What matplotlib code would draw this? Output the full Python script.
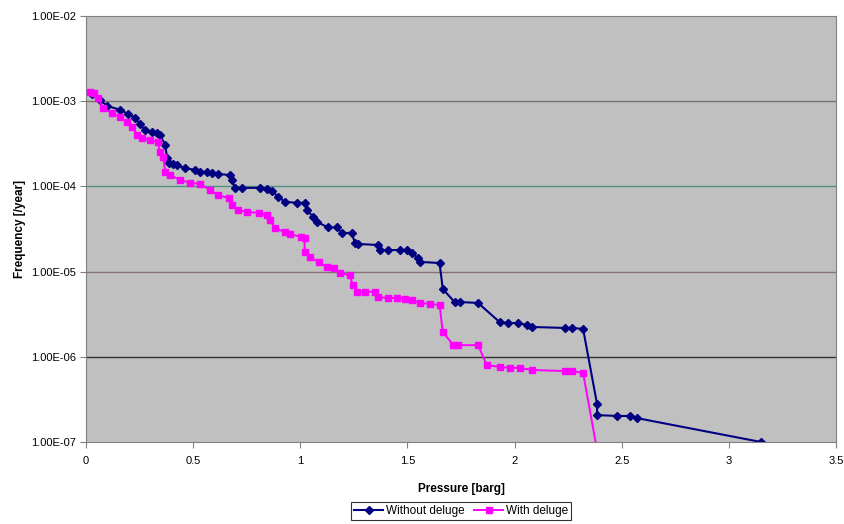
import matplotlib
matplotlib.use("Agg")
import matplotlib.pyplot as plt
from matplotlib.ticker import FixedLocator, FuncFormatter, NullLocator

plt.rcParams["font.family"] = ["Liberation Sans", "DejaVu Sans"]

# Without deluge (pressure [barg], frequency [/year])
p_without = [0.03, 0.065, 0.10, 0.16, 0.195, 0.23, 0.25, 0.275, 0.31, 0.33, 0.345,
             0.37, 0.378, 0.385, 0.405, 0.425, 0.46, 0.51, 0.53, 0.565, 0.59, 0.615,
             0.67, 0.68, 0.695, 0.73, 0.81, 0.845, 0.87, 0.895, 0.93, 0.985, 1.02,
             1.03, 1.06, 1.08, 1.13, 1.17, 1.195, 1.24, 1.255, 1.27, 1.365, 1.37,
             1.41, 1.465, 1.50, 1.52, 1.55, 1.56, 1.65, 1.665, 1.72, 1.745, 1.83,
             1.93, 1.97, 2.015, 2.06, 2.08, 2.235, 2.27, 2.32, 2.385, 2.385, 2.48,
             2.54, 2.57, 3.15]
f_without = [1.22e-3, 1.03e-3, 8.8e-4, 7.9e-4, 7.1e-4, 6.35e-4, 5.4e-4, 4.6e-4, 4.35e-4,
             4.24e-4, 4.0e-4, 3.06e-4, 2.15e-4, 1.88e-4, 1.83e-4, 1.78e-4, 1.64e-4,
             1.56e-4, 1.48e-4, 1.48e-4, 1.44e-4, 1.40e-4, 1.36e-4, 1.19e-4, 9.6e-5,
             9.6e-5, 9.6e-5, 9.3e-5, 8.8e-5, 7.5e-5, 6.6e-5, 6.4e-5, 6.4e-5, 5.3e-5,
             4.4e-5, 3.8e-5, 3.3e-5, 3.3e-5, 2.84e-5, 2.84e-5, 2.17e-5, 2.11e-5,
             2.05e-5, 1.79e-5, 1.79e-5, 1.79e-5, 1.79e-5, 1.65e-5, 1.44e-5, 1.30e-5,
             1.26e-5, 6.25e-6, 4.4e-6, 4.4e-6, 4.28e-6, 2.56e-6, 2.49e-6, 2.49e-6,
             2.36e-6, 2.24e-6, 2.18e-6, 2.18e-6, 2.12e-6, 2.79e-7, 2.07e-7, 2.02e-7,
             2.02e-7, 1.91e-7, 1.0e-7]

# With deluge
p_with = [0.02, 0.035, 0.055, 0.08, 0.12, 0.16, 0.19, 0.215, 0.24, 0.26, 0.30, 0.335,
          0.345, 0.36, 0.37, 0.39, 0.44, 0.485, 0.53, 0.58, 0.615, 0.665, 0.68, 0.71,
          0.75, 0.805, 0.845, 0.86, 0.88, 0.93, 0.95, 1.005, 1.02, 1.02, 1.045, 1.085,
          1.125, 1.155, 1.185, 1.23, 1.245, 1.265, 1.30, 1.35, 1.365, 1.41, 1.45, 1.49,
          1.52, 1.56, 1.605, 1.65, 1.665, 1.715, 1.735, 1.83, 1.87, 1.93, 1.98, 2.025,
          2.08, 2.235, 2.27, 2.32, 2.40]
f_with = [1.28e-3, 1.25e-3, 1.09e-3, 8.3e-4, 7.3e-4, 6.5e-4, 5.7e-4, 5.0e-4, 4.0e-4,
          3.7e-4, 3.5e-4, 3.3e-4, 2.5e-4, 2.2e-4, 1.48e-4, 1.36e-4, 1.19e-4, 1.10e-4,
          1.07e-4, 9.1e-5, 7.9e-5, 7.3e-5, 6.05e-5, 5.3e-5, 5.0e-5, 4.9e-5, 4.6e-5,
          4.0e-5, 3.25e-5, 2.9e-5, 2.76e-5, 2.55e-5, 2.48e-5, 1.70e-5, 1.48e-5, 1.30e-5,
          1.13e-5, 1.10e-5, 9.6e-6, 9.1e-6, 7.0e-6, 5.8e-6, 5.8e-6, 5.8e-6, 5.0e-6,
          4.9e-6, 4.9e-6, 4.8e-6, 4.65e-6, 4.28e-6, 4.17e-6, 4.06e-6, 1.95e-6, 1.37e-6,
          1.37e-6, 1.37e-6, 8.0e-7, 7.6e-7, 7.4e-7, 7.4e-7, 7.0e-7, 6.8e-7, 6.8e-7,
          6.45e-7, 5.0e-8]

x_ticks = [0, 0.5, 1, 1.5, 2, 2.5, 3, 3.5]
y_ticks = [1e-7, 1e-6, 1e-5, 1e-4, 1e-3, 1e-2]
grid_colors = ["#303030", "#8a7274", "#4f8f80", "#7a716c"]  # 1e-6 .. 1e-3

fig = plt.figure(figsize=(8.45, 5.24), dpi=100)
ax = fig.add_axes([0.1018, 0.1565, 0.8875, 0.813])
ax.set_facecolor("#c0c0c0")

ax.plot(p_without, f_without, color="#000080", marker="D", markersize=4.5,
        linewidth=1.5, label="Without deluge", zorder=2)
ax.plot(p_with, f_with, color="#ff00ff", marker="s", markersize=5,
        linewidth=1.4, label="With deluge", zorder=3)

ax.set_yscale("log")
ax.set_xlim(0, 3.5)
ax.set_ylim(1e-7, 1e-2)

for y, c in zip(y_ticks[1:-1], grid_colors):
    ax.axhline(y, color=c, linewidth=1.0, zorder=1)

ax.xaxis.set_major_locator(FixedLocator(x_ticks))
ax.xaxis.set_major_formatter(FuncFormatter(lambda v, _: f"{v:g}"))
ax.yaxis.set_major_locator(FixedLocator(y_ticks))
ax.yaxis.set_minor_locator(NullLocator())
ax.yaxis.set_major_formatter(FuncFormatter(lambda v, _: f"{v:.2E}"))

ax.tick_params(axis="both", labelsize=8, length=4, color="#808080", direction="out")
ax.tick_params(axis="x", pad=6)
for side in ["left", "bottom", "right", "top"]:
    ax.spines[side].set_color("#808080")

ax.set_xlabel("Pressure [barg]", fontsize=8.5, fontweight="bold", labelpad=12)
ax.set_ylabel("Frequency [/year]", fontsize=8.5, fontweight="bold", labelpad=3)

leg = fig.legend(loc="lower center", bbox_to_anchor=(0.546, -0.003), ncol=2,
                 fontsize=8.5, frameon=True, fancybox=False, handlelength=2.4,
                 columnspacing=0.8, handletextpad=0.3, borderpad=0.25)
leg.get_frame().set_edgecolor("black")
leg.get_frame().set_linewidth(0.8)

fig.savefig("out.png", dpi=100)
plt.close(fig)
